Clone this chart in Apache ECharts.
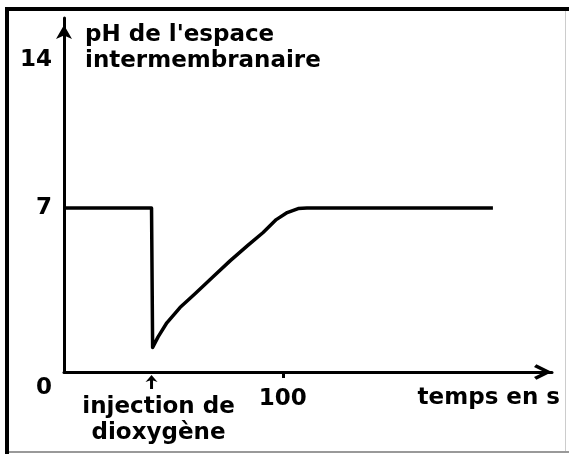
<!DOCTYPE html>
<html>
<head>
<meta charset="utf-8">
<script src="https://cdn.jsdelivr.net/npm/echarts@6/dist/echarts.min.js"></script>
<style>
  html, body { margin: 0; padding: 0; background: #fff; }
  #main { width: 569px; height: 454px; }
</style>
</head>
<body>
<div id="main"></div>
<script>
  // temps (s) et pH
  var times = [0, 40, 40.5, 43, 47, 53, 60, 68, 76, 84, 91, 97, 102, 107, 111, 196]
  var phValues = [7, 7, 1.05, 1.5, 2.1, 2.75, 3.35, 4.05, 4.75, 5.4, 5.95, 6.5, 6.8, 6.97, 7, 7]
  var yTicks = [0, 7, 14]
  var xTicks = [100]
  var injectionTime = 40

  var font = 'DejaVu Sans'
  var fontSize = 23
  var chart = echarts.init(document.getElementById('main'))

  var points = times.map(function (t, i) {
    return [t, phValues[i]]
  })

  chart.setOption({
    animation: false,
    backgroundColor: '#fff',
    grid: { left: 64, right: 17, top: 18, bottom: 82 },
    xAxis: {
      type: 'value',
      min: 0,
      max: 223,
      name: 'temps en s',
      nameLocation: 'end',
      nameGap: 8,
      nameTextStyle: {
        color: '#000', fontFamily: font, fontWeight: 'bold', fontSize: fontSize,
        align: 'right', verticalAlign: 'top', lineHeight: 26, padding: [13, 0, 0, 0]
      },
      axisLine: {
        lineStyle: { color: '#000', width: 3 },
        // chevron ouvert en bout d'axe
        symbol: ['none', 'path://M0,10 L5,0 L10,10 L8.2,11.5 L5,5 L1.8,11.5 Z'],
        symbolSize: [20, 18],
        symbolOffset: [0, -9]
      },
      axisTick: { show: true, customValues: xTicks, length: 6, lineStyle: { color: '#000', width: 3 } },
      axisLabel: {
        customValues: xTicks,
        margin: 16,
        color: '#000', fontFamily: font, fontWeight: 'bold', fontSize: fontSize
      },
      splitLine: { show: false }
    },
    yAxis: {
      type: 'value',
      min: 0,
      max: 15.1,
      name: "pH de l'espace\nintermembranaire",
      nameLocation: 'end',
      nameGap: 0,
      nameTextStyle: {
        color: '#000', fontFamily: font, fontWeight: 'bold', fontSize: fontSize,
        align: 'left', verticalAlign: 'top', lineHeight: 26, padding: [4, 0, 0, 21]
      },
      axisLine: {
        show: true,
        lineStyle: { color: '#000', width: 3 },
        symbol: ['none', 'arrow'],
        symbolSize: [12, 14],
        symbolOffset: [0, -7]
      },
      axisTick: { show: false },
      axisLabel: {
        customValues: yTicks,
        margin: 12,
        lineHeight: 32,
        color: '#000', fontFamily: font, fontWeight: 'bold', fontSize: fontSize,
        formatter: function (v) {
          return v === 7 ? '' + v : '\n' + v
        }
      },
      splitLine: { show: false }
    },
    series: [{
      type: 'line',
      data: points,
      showSymbol: false,
      lineStyle: { color: '#000', width: 3.5, join: 'round' },
      z: 5
    }]
  })

  // flèche et texte de l'injection, placés sur l'échelle de l'axe x
  var ix = chart.convertToPixel({ xAxisIndex: 0 }, injectionTime)
  var axisY = chart.convertToPixel({ yAxisIndex: 0 }, 0)

  chart.setOption({
    graphic: [
      // cadre
      { type: 'line', shape: { x1: 7, y1: 9, x2: 7, y2: 454 }, style: { stroke: '#000', lineWidth: 4 } },
      { type: 'line', shape: { x1: 5, y1: 9, x2: 569, y2: 9 }, style: { stroke: '#000', lineWidth: 4 } },
      { type: 'line', shape: { x1: 565.5, y1: 11, x2: 565.5, y2: 452 }, style: { stroke: '#ccc', lineWidth: 1 } },
      { type: 'line', shape: { x1: 9, y1: 452, x2: 569, y2: 452 }, style: { stroke: '#999', lineWidth: 2 } },
      // flèche d'injection
      { type: 'line', shape: { x1: ix, y1: axisY + 8, x2: ix, y2: axisY + 17 }, style: { stroke: '#000', lineWidth: 3 } },
      { type: 'polygon', shape: { points: [[ix, axisY + 3], [ix + 6, axisY + 10], [ix, axisY + 8], [ix - 6, axisY + 10]] }, style: { fill: '#000' } },
      {
        type: 'text',
        x: ix + 7,
        y: axisY + 22,
        style: {
          text: 'injection de\ndioxygène',
          fill: '#000',
          font: 'bold ' + fontSize + 'px "DejaVu Sans"',
          align: 'center',
          verticalAlign: 'top',
          lineHeight: 26
        }
      }
    ]
  })
</script>
</body>
</html>
